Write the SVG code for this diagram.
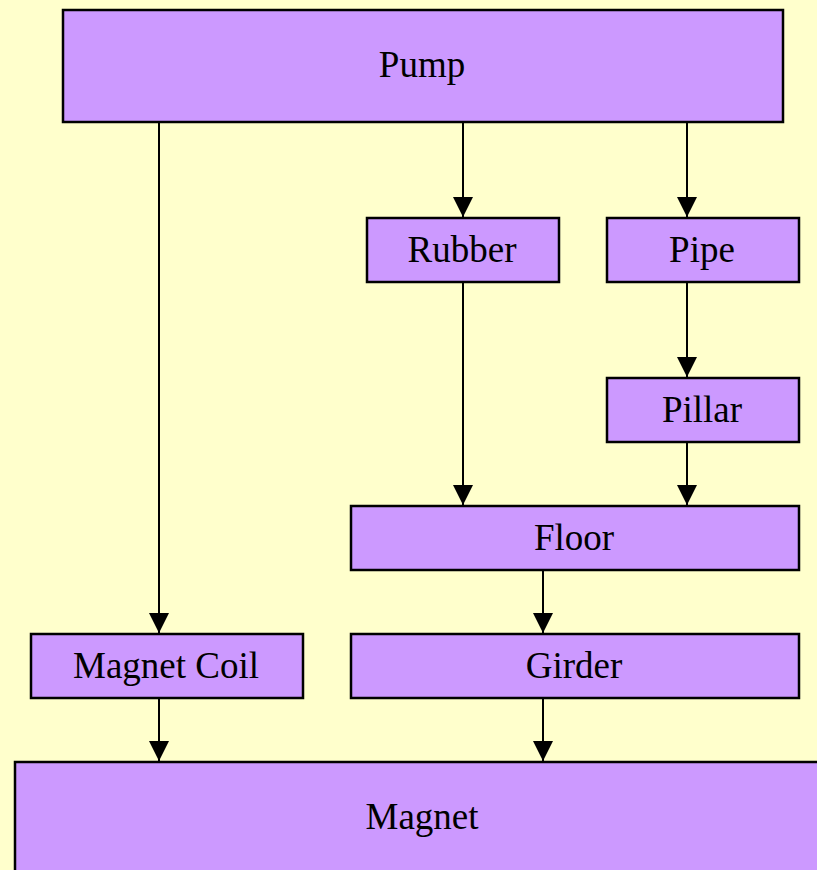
<svg xmlns="http://www.w3.org/2000/svg" width="817" height="870" viewBox="0 0 817 870">
<style>
.node rect{fill:#CC99FF;stroke:#000;stroke-width:2.5}
.node text{font-family:'Liberation Serif','Times New Roman',serif;font-size:37px;fill:#000;text-anchor:middle}
.edge{stroke:#000;stroke-width:2;fill:none;marker-end:url(#arr)}
</style>
<defs>
<marker id="arr" markerUnits="userSpaceOnUse" markerWidth="20" markerHeight="20" refX="20" refY="10" orient="auto" viewBox="0 0 20 20">
<path d="M0,0 L20,10 L0,20 Z" fill="#000"/>
</marker>
</defs>
<rect width="817" height="870" fill="#FFFFCC"/>
<g id="connectors">
<line class="edge" x1="159" y1="122" x2="159" y2="633"/>
<line class="edge" x1="463" y1="122" x2="463" y2="217"/>
<line class="edge" x1="687" y1="122" x2="687" y2="217"/>
<line class="edge" x1="463" y1="282" x2="463" y2="505"/>
<line class="edge" x1="687" y1="282" x2="687" y2="377"/>
<line class="edge" x1="687" y1="442" x2="687" y2="505"/>
<line class="edge" x1="543" y1="570" x2="543" y2="633"/>
<line class="edge" x1="159" y1="698" x2="159" y2="761"/>
<line class="edge" x1="543" y1="698" x2="543" y2="761"/>
</g>
<g id="pump" class="node"><rect x="63" y="10" width="720" height="112"/><text x="422" y="77">Pump</text></g>
<g id="rubber" class="node"><rect x="367" y="218" width="192" height="64"/><text x="462" y="262">Rubber</text></g>
<g id="pipe" class="node"><rect x="607" y="218" width="192" height="64"/><text x="702" y="262">Pipe</text></g>
<g id="pillar" class="node"><rect x="607" y="378" width="192" height="64"/><text x="702" y="422">Pillar</text></g>
<g id="floor" class="node"><rect x="351" y="506" width="448" height="64"/><text x="574" y="550">Floor</text></g>
<g id="magnet-coil" class="node"><rect x="31" y="634" width="272" height="64"/><text x="166" y="678">Magnet Coil</text></g>
<g id="girder" class="node"><rect x="351" y="634" width="448" height="64"/><text x="574" y="678">Girder</text></g>
<g id="magnet" class="node"><rect x="15" y="762" width="816" height="120"/><text x="422" y="829">Magnet</text></g>
</svg>
